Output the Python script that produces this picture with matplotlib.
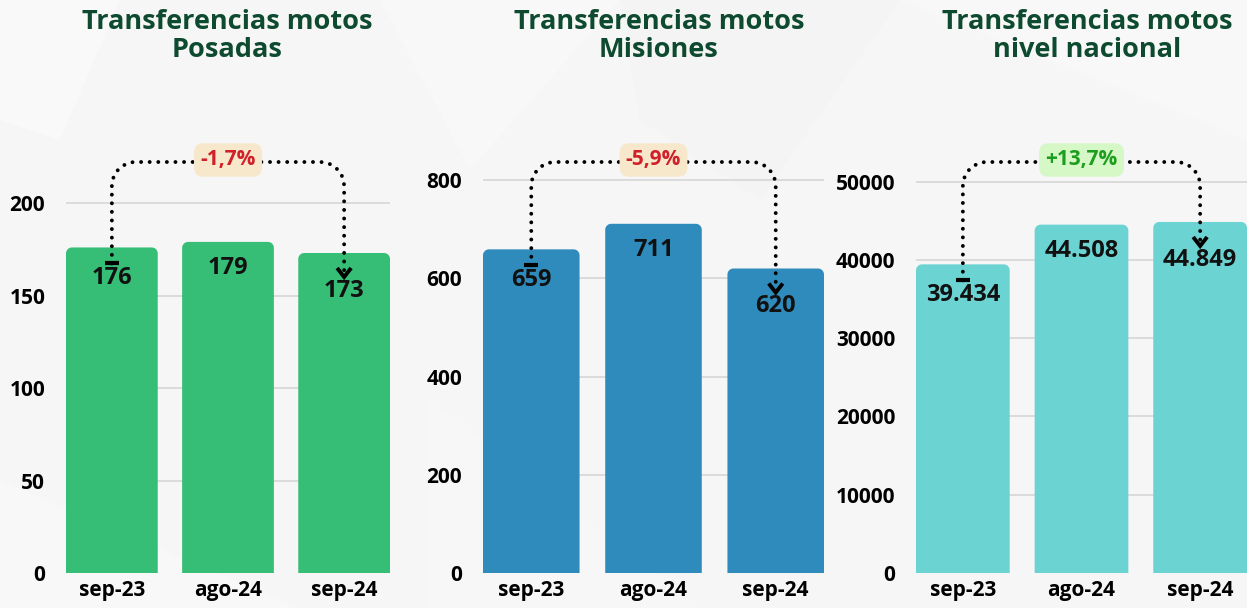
import matplotlib
matplotlib.use("Agg")
import matplotlib.pyplot as plt
import matplotlib.transforms as mtransforms
import numpy as np
from matplotlib.patches import Polygon
from matplotlib.lines import Line2D

plt.rcParams['font.family'] = ['Open Sans', 'DejaVu Sans']

# ---------------- data ----------------
categories = ["sep-23", "ago-24", "sep-24"]
titles = ["Transferencias motos\nPosadas",
          "Transferencias motos\nMisiones",
          "Transferencias motos\nnivel nacional"]
posadas = [176, 179, 173]
misiones = [659, 711, 620]
nacional = [39434, 44508, 44849]
value_labels = [["176", "179", "173"],
                ["659", "711", "620"],
                ["39.434", "44.508", "44.849"]]
change_labels = ["-1,7%", "-5,9%", "+13,7%"]
yticks = [[0, 50, 100, 150, 200],
          [0, 200, 400, 600, 800],
          [0, 10000, 20000, 30000, 40000, 50000]]

series = [posadas, misiones, nacional]
bar_colors = ["#36BE76", "#2E8BBB", "#6CD3D3"]
change_text_colors = ["#D0202A", "#D0202A", "#1E9E1E"]
change_box_colors = ["#F7E8CC", "#F7E8CC", "#D6F8C6"]
ylims = [239.5, 902, 56600]

W, H = 1247, 608
fig = plt.figure(figsize=(W / 100, H / 100), dpi=100)
fig.patch.set_facecolor("#F6F6F6")

# subtle background facets
bg = fig.add_axes([0, 0, 1, 1], zorder=-10)
bg.set_xlim(0, W); bg.set_ylim(H, 0); bg.axis("off")
facets = [
    ([(0, 0), (120, 0), (60, 140), (0, 120)], "#F9F9F9"),
    ([(380, 0), (620, 0), (470, 170)], "#F8F8F8"),
    ([(620, 0), (900, 0), (760, 200), (640, 120)], "#F4F4F4"),
    ([(0, 608), (0, 480), (300, 608)], "#F8F8F8"),
    ([(900, 0), (1247, 0), (1247, 140)], "#F8F8F8"),
    ([(430, 400), (700, 608), (430, 608)], "#F7F7F7"),
]
for pts, c in facets:
    bg.add_patch(Polygon(pts, closed=True, facecolor=c, edgecolor="none"))

# axes pixel boxes: left, right, bottom(px from top), top(px from top)
boxes = [(66, 390, 573, 130), (483, 824, 573, 130), (916, 1247, 573, 130)]
title_x = [227, 659, 1087]

bar_w = 0.79
x = np.arange(len(categories))

for i in range(3):
    l, r, b, t = boxes[i]
    ax = fig.add_axes([l / W, 1 - b / H, (r - l) / W, (b - t) / H])
    ax.set_facecolor("none")
    ax.set_xlim(-bar_w / 2, len(categories) - 1 + bar_w / 2)
    ax.set_ylim(0, ylims[i])
    vals = series[i]
    bars = ax.bar(x, vals, width=bar_w, color=bar_colors[i], zorder=2)
    # replace each bar with a rounded-top version of the same rectangle
    xpp = (len(categories) - 1 + bar_w) / (r - l)
    ypp = ylims[i] / (b - t)
    rpx = 6
    rx, ry = rpx * xpp, rpx * ypp
    for rect in bars:
        bx, bw, bh = rect.get_x(), rect.get_width(), rect.get_height()
        th1 = np.linspace(np.pi, np.pi / 2, 10)
        th2 = np.linspace(np.pi / 2, 0, 10)
        verts = [(bx, 0), (bx, bh - ry)]
        verts += [(bx + rx + rx * np.cos(a), bh - ry + ry * np.sin(a)) for a in th1]
        verts += [(bx + bw - rx + rx * np.cos(a), bh - ry + ry * np.sin(a)) for a in th2]
        verts += [(bx + bw, 0)]
        rect.set_visible(False)
        ax.add_patch(Polygon(verts, closed=True, facecolor=bar_colors[i],
                             edgecolor="none", zorder=2))
    ax.set_yticks(yticks[i])
    ax.set_yticklabels([str(v) for v in yticks[i]], fontsize=15, fontweight="bold")
    ax.set_xticks(x)
    ax.set_xticklabels(categories, fontsize=15, fontweight="bold")
    ax.tick_params(axis="both", length=0)
    ax.tick_params(axis="y", pad=15)
    ax.tick_params(axis="x", pad=5)
    for s in ax.spines.values():
        s.set_visible(False)
    ax.yaxis.grid(True, color="#D6D6D6", lw=1.2, zorder=0)
    ax.set_axisbelow(True)
    ax.get_ygridlines()[0].set_visible(False)

    fig.text(title_x[i] / W, 1 - 36 / H, titles[i], ha="center", va="center",
             fontsize=19.5, fontweight="bold", color="#0D4A2F", linespacing=1.1)

    # value labels inside bars
    offsets = [31, 26, 38]
    for j, v in enumerate(vals):
        ax.text(x[j], v, value_labels[i][j], ha="center", va="center",
                fontsize=17, fontweight="bold", color="#111111", zorder=5,
                transform=ax.transData + mtransforms.ScaledTranslation(
                    0, -offsets[j] / 100, fig.dpi_scale_trans))

    # bracket in display (pixel) coordinates
    x0, yb0 = ax.transData.transform((x[0], vals[0]))
    x1, yb1 = ax.transData.transform((x[-1], vals[-1]))
    ys = yb0 - 16
    ye = yb1 - 24
    yh = H - 162
    rr = 24
    pts = [(x0, ys), (x0, yh - rr)]
    th = np.linspace(np.pi, np.pi / 2, 12)
    pts += [(x0 + rr + rr * np.cos(a), yh - rr + rr * np.sin(a)) for a in th]
    th = np.linspace(np.pi / 2, 0, 12)
    pts += [(x1 - rr + rr * np.cos(a), yh - rr + rr * np.sin(a)) for a in th]
    pts += [(x1, ye + 4)]
    pts = np.array(pts)
    fig.add_artist(Line2D(pts[:, 0] / W, pts[:, 1] / H, transform=fig.transFigure,
                          color="black", lw=2.8, linestyle=(0, (0.01, 2.2)),
                          dash_capstyle="round", zorder=10))
    fig.add_artist(Line2D([(x0 - 7) / W, (x0 + 7) / W], [ys / H, ys / H],
                          transform=fig.transFigure, color="black", lw=3,
                          solid_capstyle="butt", zorder=10))
    fig.add_artist(Line2D([(x1 - 7) / W, x1 / W, (x1 + 7) / W],
                          [(ye + 9) / H, ye / H, (ye + 9) / H],
                          transform=fig.transFigure, color="black", lw=2.8,
                          solid_joinstyle="miter", solid_capstyle="butt", zorder=10))
    fig.text((x0 + x1) / 2 / W, (yh + 2) / H, change_labels[i], ha="center",
             va="center", fontsize=15, fontweight="bold",
             color=change_text_colors[i], zorder=11,
             bbox=dict(boxstyle="round,pad=0.3,rounding_size=0.45",
                       facecolor=change_box_colors[i], edgecolor="none"))

fig.savefig("out.png", dpi=100, facecolor=fig.get_facecolor())
